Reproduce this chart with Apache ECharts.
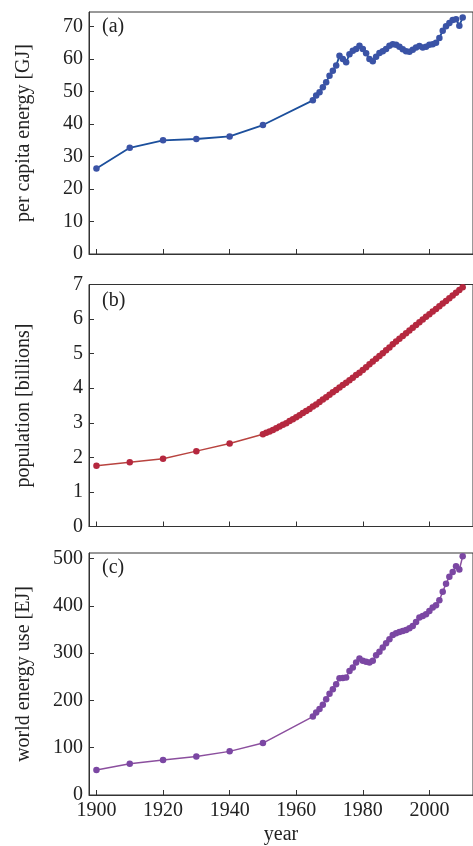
<!DOCTYPE html>
<html>
<head>
<meta charset="utf-8">
<script src="https://cdn.jsdelivr.net/npm/echarts@6/dist/echarts.min.js"></script>
<style>
html,body{margin:0;padding:0;background:#fff;}
#chart{width:473px;height:846px;}
</style>
</head>
<body>
<div id="chart"></div>
<script>
// ---- data ----
var yearsAC = [1900,1910,1920,1930,1940,1950,
  1965,1966,1967,1968,1969,1970,1971,1972,1973,1974,1975,1976,1977,1978,1979,
  1980,1981,1982,1983,1984,1985,1986,1987,1988,1989,1990,1991,1992,1993,1994,
  1995,1996,1997,1998,1999,2000,2001,2002,2003,2004,2005,2006,2007,2008,2009,2010];

var perCapita = [26.3,32.7,35.0,35.4,36.2,39.7,
  47.3,48.8,49.8,51.3,52.9,54.9,56.4,58.0,61.0,60.0,59.0,61.5,62.6,63.1,64.1,
  63.1,61.8,60.0,59.3,60.7,61.9,62.4,63.1,64.1,64.6,64.4,63.8,63.0,62.4,62.3,
  62.9,63.6,64.0,63.6,63.8,64.4,64.6,65.0,66.5,68.7,70.1,71.1,72.0,72.3,70.3,72.8];

var worldEnergy = [52.8,66.2,74.0,81.7,92.3,109.9,
  166,174.7,181.7,191,202.8,214,224,234.5,247,247.5,248.7,262.6,269.8,280.3,288.8,
  283.8,281.7,280.3,283.8,295.8,303,312,321,329.6,338.7,342.3,345.1,347.2,349.3,352.8,
  357.7,366.2,375.4,378.9,382.4,389.5,396.5,401.4,412,430,447,462,472,484,477,505];

var yearsB = [1900,1910,1920,1930,1940,1950,
  1951,1952,1953,1954,1955,1956,1957,1958,1959,1960,1961,1962,1963,1964,1965,
  1966,1967,1968,1969,1970,1971,1972,1973,1974,1975,1976,1977,1978,1979,1980,
  1981,1982,1983,1984,1985,1986,1987,1988,1989,1990,1991,1992,1993,1994,1995,
  1996,1997,1998,1999,2000,2001,2002,2003,2004,2005,2006,2007,2008,2009,2010];

var population = [1.76,1.86,1.96,2.18,2.40,2.67,
  2.71,2.75,2.79,2.84,2.89,2.94,2.99,3.05,3.10,3.16,3.22,3.28,3.34,3.40,3.47,
  3.53,3.60,3.67,3.74,3.81,3.88,3.95,4.02,4.09,4.16,4.23,4.30,4.38,4.45,4.53,
  4.61,4.69,4.77,4.85,4.93,5.01,5.10,5.18,5.27,5.35,5.43,5.51,5.59,5.67,5.75,
  5.83,5.91,5.99,6.07,6.14,6.22,6.29,6.37,6.45,6.52,6.60,6.68,6.76,6.84,6.92];

var xTicks = [1900,1920,1940,1960,1980,2000];
var yTicksA = [0,10,20,30,40,50,60,70];
var yTicksB = [0,1,2,3,4,5,6,7];
var yTicksC = [0,100,200,300,400,500];

var yNames = ['per capita energy [GJ]','population [billions]','world energy use [EJ]'];
var panelLabels = ['(a)','(b)','(c)'];
var xName = 'year';

// ---- chart ----
function pairs(xs, ys){ return xs.map(function(x,i){ return [x, ys[i]]; }); }
function plain(v){ return String(v); }

var FONT = '"Liberation Serif", "DejaVu Serif", serif';
var AX = '#333';
var grids = [
  {left:89, width:396, top:12, height:242},
  {left:89, width:396, top:284.5, height:242},
  {left:89, width:396, top:553, height:243}
].map(function(g){ g.show = true; g.borderColor = AX; g.borderWidth = 1; g.backgroundColor='transparent'; return g; });

function xAxis(i, showLabels){
  return {
    type:'value', gridIndex:i, min:1897.76, max:2013.1,
    axisLine:{show:true, onZero:false, lineStyle:{color:AX, width:1}},
    axisTick:{show:true, inside:true, length:5, customValues:xTicks, lineStyle:{color:AX}},
    axisLabel:{show:showLabels, customValues:xTicks, formatter:plain, margin:6, color:'#222', fontFamily:FONT, fontSize:20},
    splitLine:{show:false},
    name: showLabels ? xName : '', nameLocation:'middle', nameGap:30,
    nameTextStyle:{color:'#222', fontFamily:FONT, fontSize:20}
  };
}
function yAxis(i, max, ticks){
  return {
    type:'value', gridIndex:i, min:0, max:max,
    axisLine:{show:true, onZero:false, lineStyle:{color:AX, width:1}},
    axisTick:{show:true, inside:true, length:5, customValues:ticks, lineStyle:{color:AX}},
    axisLabel:{customValues:ticks, formatter:plain, margin:6, color:'#222', fontFamily:FONT, fontSize:20},
    splitLine:{show:false},
    name:yNames[i], nameLocation:'middle', nameRotate:90, nameGap:55,
    nameTextStyle:{color:'#222', fontFamily:FONT, fontSize:20}
  };
}
function series(i, xs, ys, lineColor, dotColor, lw){
  return {
    type:'line', xAxisIndex:i, yAxisIndex:i, data:pairs(xs, ys),
    symbol:'circle', symbolSize:6.5, showSymbol:true, showAllSymbol:true,
    lineStyle:{color:lineColor, width:lw},
    itemStyle:{color:dotColor, borderWidth:0},
    emphasis:{disabled:true}, silent:true
  };
}

var chart = echarts.init(document.getElementById('chart'), null, {renderer:'canvas'});
chart.setOption({
  animation:false,
  backgroundColor:'#fff',
  title:[
    {text:panelLabels[0], left:102, top:17},
    {text:panelLabels[1], left:102, top:291},
    {text:panelLabels[2], left:102, top:558}
  ].map(function(t){ t.padding = 0; t.textStyle = {fontFamily:FONT, fontSize:20, fontWeight:'normal', color:'#222'}; return t; }),
  grid: grids,
  xAxis:[xAxis(0,false), xAxis(1,false), xAxis(2,true)],
  yAxis:[yAxis(0,74.5,yTicksA), yAxis(1,7,yTicksB), yAxis(2,512,yTicksC)],
  series:[
    series(0, yearsAC, perCapita, '#1c4f9c', '#3a53a6', 1.8),
    series(1, yearsB, population, '#b8433f', '#b5283f', 1.5),
    series(2, yearsAC, worldEnergy, '#8b4f9e', '#7b47a3', 1.5)
  ]
});
</script>
</body>
</html>
